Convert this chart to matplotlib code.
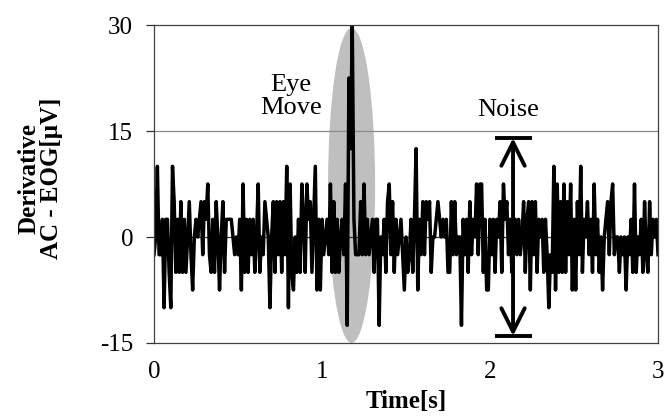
import numpy as np
import matplotlib
matplotlib.use("Agg")
import matplotlib.pyplot as plt
from matplotlib.patches import Ellipse

plt.rcParams["font.family"] = ["Liberation Serif", "DejaVu Serif"]
plt.rcParams["axes.unicode_minus"] = False

# Derivative AC-EOG samples (µV), 100 Hz, 0-3 s, in six chunks
seg_a = [-2.5, 0, 10, -2.5, -2.5, 2.5, -10, 2.5, 2.5, -5, -10, 10, 5, -5, 2.5, -5, 5, -5,
         2.5, -5, 0, 5, -2.5, -7.5, 0, 2.5, 0, 2.5, 5, -2.5, 5, 2.5, 7.5, -2.5, -5, 2.5,
         -5, 5, 0, -7.5, 0, 5, -5, 2.5, 2.5, 2.5, 2.5, 0, -2.5]
seg_b = [0, -2.5, 2.5, -7.5, 7.5, -5, 2.5, -5, 2.5, -2.5, 2.5, -5, 0, 7.5, -5, 0, -2.5, 5,
         2.5, 0, -10, 0, 5, -5, 5, -2.5, 5, -5, 5, -2.5, 10, -10, 7.5, -5, -7.5, 0, -5,
         2.5, -5, 7.5, 2.5, -5, 7.5, 2.5, 5, -5, 2.5, 10, -7.5, 2.5]
seg_c = [-7.5, 2.5, -2.5, 0, 2.5, -2.5, 7.5, -5, 5, -5, 2.5, -5, 0, 2.5, -2.5, 7.5, -12.5,
         22.5, 12.5, 30, 2.5, -2.5, -2.5, -2.5, 5, -2.5, 7.5, -2.5, 2.5, -2.5, 0, 2.5, -5,
         2.5, 2.5, -12.5, 0, -2.5, 2.5, -5, 5, 7.5, -2.5, 5, -5, 2.5, -2.5, 0, 2.5, -2.5]
seg_d = [-7.5, 0, -5, -2.5, 2.5, -5, 2.5, 12.5, -7.5, 2.5, -2.5, 5, -2.5, 5, 2.5, 5, -5, 0,
         0, 2.5, 5, 2.5, 0, 2.5, 0, 2.5, -5, -5, 5, -2.5, 5, -2.5, 0, 0, -12.5, 2.5, -2.5,
         2.5, -5, 5, -2.5, 2.5, 0, 7.5, -2.5, 7.5, 7.5, -5, 2.5, -7.5]
seg_e = [-7.5, 2.5, -2.5, 2.5, -5, 2.5, 0, 5, -5, 7.5, 2.5, 5, -2.5, 2.5, -5, 0, 2.5, -2.5,
         2.5, -2.5, 0, 5, -5, 2.5, 5, -7.5, 5, -2.5, 5, -5, 2.5, 0, 2.5, -5, 2.5, -2.5,
         -10, -2.5, -5, 10, -7.5, 7.5, -5, 5, -5, 7.5, -5, 5, -2.5]
seg_f = [7.5, -7.5, 2.5, -7.5, 5, -2.5, 10, -5, 2.5, 0, 5, -2.5, 2.5, -5, 7.5, -2.5, 2.5,
         -5, 0, -7.5, 0, 2.5, 5, -2.5, 5, 7.5, -2.5, 0, 0, -5, 0, -2.5, 0, -7.5, 0, -2.5,
         2.5, -5, 7.5, -5, 0, -2.5, 2.5, -5, 5, -2.5, -5, 5, -2.5, 2.5, 0, 2.5, -2.5]

signal = np.array(seg_a + seg_b + seg_c + seg_d + seg_e + seg_f)
time_s = np.linspace(0, 3, len(signal))

x_ticks = [0, 1, 2, 3]
y_ticks = [-15, 0, 15, 30]

fig = plt.figure(figsize=(6.65, 4.19), dpi=100)
ax = fig.add_axes([0.2316, 0.1814, 0.7579, 0.7589])

# highlighted eye movement region
ax.add_patch(Ellipse((1.176, 7.3), width=0.28, height=44.6, facecolor="#bfbfbf",
                     edgecolor="none", zorder=0.5))

ax.axhline(15, color="#8a8a8a", lw=0.9, zorder=1)
ax.axhline(0, color="#333333", lw=0.9, zorder=1)

ax.plot(time_s, signal, color="black", lw=2.5, zorder=2)

ax.set_xlim(0, 3)
ax.set_ylim(-15, 30)
ax.set_xticks(x_ticks)
ax.set_yticks(y_ticks)
ax.tick_params(axis="x", length=0, pad=13, labelsize=18)
ax.tick_params(axis="y", direction="out", length=6, width=0.9, pad=9, labelsize=18,
               color="#333333")
for side in ["left", "right", "top", "bottom"]:
    ax.spines[side].set_color("#404040")
    ax.spines[side].set_linewidth(0.9)

# noise amplitude arrow with end caps
ax.annotate("", xy=(2.137, -14), xytext=(2.137, 14),
            arrowprops=dict(arrowstyle="<->,head_length=1.2,head_width=0.6",
                            lw=2.8, color="black", mutation_scale=14,
                            shrinkA=0, shrinkB=0), zorder=3)
ax.hlines([14, -14], 2.137 - 0.11, 2.137 + 0.11, color="black", lw=2.8, zorder=3)

ax.text(0.815, 19.9, "Eye\nMove", ha="center", va="center", fontsize=19,
        linespacing=1.02, zorder=3)
ax.text(2.11, 18.0, "Noise", ha="center", va="center", fontsize=19, zorder=3)

ax.set_xlabel("Time[s]", fontsize=18, fontweight="bold", labelpad=5)
fig.text(0.060, 0.575, "Derivative\nAC - EOG[μV]", rotation=90, ha="center",
         va="center", fontsize=18, fontweight="bold", linespacing=0.98)

fig.savefig("out.png", dpi=100)
